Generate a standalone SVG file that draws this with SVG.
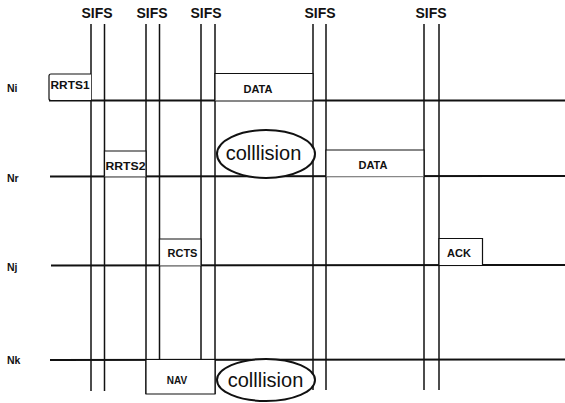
<svg xmlns="http://www.w3.org/2000/svg" width="565" height="403" viewBox="0 0 565 403">
<style>
.bg{fill:#fff}
.tl{stroke:#111;stroke-width:2;fill:none}
.vl{stroke:#111;stroke-width:1.5;fill:none}
.box{fill:#fff;stroke:#111;stroke-width:1.2}
.ell{fill:#fff;stroke:#111;stroke-width:2}
.sifs{font-family:"Liberation Sans",Arial,sans-serif;font-size:14px;font-weight:bold;fill:#111;text-anchor:middle}
.row{font-family:"Liberation Sans",Arial,sans-serif;font-size:10.5px;font-weight:bold;fill:#111}
.lbl{font-family:"Liberation Sans",Arial,sans-serif;font-size:11px;font-weight:bold;fill:#111;text-anchor:middle}
.col{font-family:"Liberation Sans",Arial,sans-serif;font-size:20px;fill:#111;text-anchor:middle}
</style>
<rect class="bg" x="0" y="0" width="565" height="403"/>
<g id="sifs-labels">
<text class="sifs" x="97" y="18">SIFS</text>
<text class="sifs" x="152" y="18">SIFS</text>
<text class="sifs" x="206" y="18">SIFS</text>
<text class="sifs" x="320" y="18">SIFS</text>
<text class="sifs" x="431" y="18">SIFS</text>
</g>
<g id="row-labels">
<text class="row" x="7" y="92">Ni</text>
<text class="row" x="7" y="182">Nr</text>
<text class="row" x="7" y="271">Nj</text>
<text class="row" x="7" y="364">Nk</text>
</g>
<g id="connectors">
<line class="tl" x1="49" y1="100.5" x2="565" y2="100.5"/>
<line class="tl" x1="50" y1="176.5" x2="565" y2="176"/>
<line class="tl" x1="51" y1="265.5" x2="565" y2="265"/>
<line class="tl" x1="50" y1="360" x2="565" y2="359.5"/>
<line class="vl" x1="91" y1="24" x2="91" y2="391"/>
<line class="vl" x1="104.5" y1="24" x2="104.5" y2="391"/>
<line class="vl" x1="146" y1="24" x2="146" y2="394"/>
<line class="vl" x1="159.5" y1="24" x2="159.5" y2="360"/>
<line class="vl" x1="201" y1="24" x2="201" y2="360"/>
<line class="vl" x1="215" y1="24" x2="215" y2="394"/>
<line class="vl" x1="313" y1="24" x2="313" y2="390"/>
<line class="vl" x1="326" y1="24" x2="326" y2="390"/>
<line class="vl" x1="424" y1="24" x2="424" y2="390"/>
<line class="vl" x1="439" y1="24" x2="439" y2="390"/>
</g>
<g id="rrts1">
<path class="box" d="M91,74 H51 Q49,74 49,76 V98.5 Q49,100.5 51,100.5 H91"/>
<text class="lbl" x="70" y="89" textLength="39" lengthAdjust="spacingAndGlyphs">RRTS1</text>
</g>
<g id="data-ni">
<path class="box" d="M215,100.5 V73.5 H313 V100.5"/>
<text class="lbl" x="258" y="93">DATA</text>
</g>
<g id="rrts2">
<path class="box" d="M104.5,176.5 V151 H146 V176.5"/>
<text class="lbl" x="125.5" y="169.5" textLength="40" lengthAdjust="spacingAndGlyphs">RRTS2</text>
</g>
<g id="data-nr">
<path class="box" d="M326,176.5 V150 H424 V176.5"/>
<text class="lbl" x="373" y="169">DATA</text>
</g>
<g id="rcts">
<path class="box" d="M159.5,265.5 V239 H201 V265.5"/>
<text class="lbl" x="182.5" y="256.5">RCTS</text>
</g>
<g id="ack">
<path class="box" d="M439,265 V238.5 H482.5 V265"/>
<text class="lbl" x="459" y="256.5">ACK</text>
</g>
<g id="nav">
<path class="box" d="M146,360 V394 H215 V360"/>
<text class="lbl" x="177" y="383.5" style="font-size:10px">NAV</text>
</g>
<g id="collision-top">
<ellipse class="ell" cx="266" cy="154" rx="49" ry="24"/>
<text class="col" x="263.5" y="159.5">colllision</text>
</g>
<g id="collision-bottom">
<ellipse class="ell" cx="266" cy="380" rx="49" ry="21"/>
<text class="col" x="265.5" y="387">colllision</text>
</g>
</svg>
